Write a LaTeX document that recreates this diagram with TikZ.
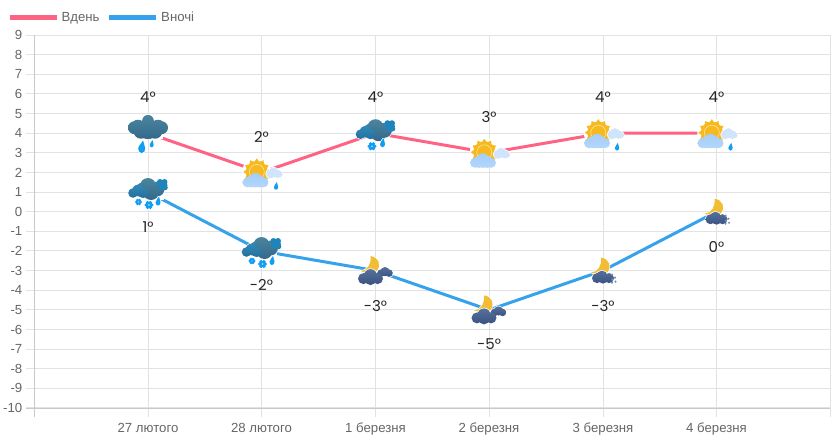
\documentclass[tikz,border=0pt]{standalone}
\usepackage{fontspec}
\setmainfont{Liberation Sans}
\newfontfamily\valfont{Poppins}
\definecolor{daycol}{HTML}{FF6384}
\definecolor{nightcol}{HTML}{36A2EB}
\definecolor{gridcol}{HTML}{E2E2E2}
\definecolor{axiscol}{HTML}{C9C9C9}
\definecolor{tickcol}{HTML}{666666}
\definecolor{dropcol}{HTML}{0F9EF2}
\definecolor{suncol}{HTML}{F6B91E}
\definecolor{mooncol}{HTML}{F2BD35}
\definecolor{stormtop}{HTML}{4A86A0}
\definecolor{stormlow}{HTML}{34688A}
\definecolor{fronttop}{HTML}{2F8AB8}
\definecolor{frontlow}{HTML}{256F9C}
\definecolor{bumpcol}{HTML}{1F84BC}
\definecolor{palecol}{HTML}{D0E5FC}
\definecolor{paletop}{HTML}{A4CEF8}
\definecolor{palelow}{HTML}{B4D6FB}
\definecolor{nighttop}{HTML}{56709A}
\definecolor{nightlow}{HTML}{3A5282}
\definecolor{speckcol}{HTML}{7D90B4}

\newcommand{\bigcloud}{(-13.5,-5.5) circle [radius=6.5] (13.5,-5.5) circle [radius=6.5] (-10,-6) circle [radius=7.5] (10,-6) circle [radius=7.5] (0,-12.5) circle [radius=5.8] (0,-4) circle [radius=10] (-7,-2) circle [radius=7.5] (7,-2) circle [radius=7.5]}
\newcommand{\maincloud}{(0,-6) circle [radius=8] (-5,-2) circle [radius=7.5] (9,-3) circle [radius=7.5] (3,0) circle [radius=8]}
\newcommand{\leftcloud}{(-15,1) circle [radius=4.8] (-10,-1.5) circle [radius=5.8] (-5,1) circle [radius=5]}
\newcommand{\rightbump}{(14.5,-7) circle [radius=5] (12,-10) circle [radius=3] (16.5,-10) circle [radius=3] (17,-4.5) circle [radius=2.8]}
\newcommand{\sunfront}{(-14,10) circle [radius=5] (2,10) circle [radius=5] (-6,6.5) circle [radius=6] (-6,9) circle [radius=6] (-10,9) circle [radius=6] (-2,9) circle [radius=6]}
\newcommand{\sunback}{(12,0) circle [radius=5] (9,1.5) circle [radius=4.5] (16,1.5) circle [radius=4.2] (18,2) circle [radius=3]}
\newcommand{\moonfront}{(-12,8) circle [radius=5.5] (2,8) circle [radius=5.5] (-5,5) circle [radius=6.5] (-5,9) circle [radius=5.5]}
\newcommand{\moonback}{(5.5,2.5) circle [radius=3.8] (13.5,2.5) circle [radius=3.8] (9.5,1) circle [radius=4.6]}
\newcommand{\moonsnow}{(-6,7.5) circle [radius=5] (6,7.5) circle [radius=5] (-1,5.5) circle [radius=5.5] (0,8) circle [radius=5]}
\newcommand{\moonshape}{(-2,-13) .. controls (6,-12) and (9.5,-4) .. (4,2) .. controls (0,4) and (-7,4) .. (-12,2) .. controls (-5,1.5) and (-1,-5) .. (-2,-13) -- cycle}
\newcommand{\dropshape}{(1,-4.5) .. controls (0,-2) and (-2.5,-1) .. (-2.5,1.5) .. controls (-2.5,3.5) and (-1,4.5) .. (0,4.5) .. controls (1.8,4.5) and (2.5,3) .. (2.5,1) .. controls (2.5,-1) and (1,-2.5) .. (1,-4.5)}
\newcommand{\tinydrop}[3]{\path[fill=white,draw=white,line width=1.5] [shift={(#1,#2)},scale=#3] \dropshape;
  \fill[dropcol] [shift={(#1,#2)},scale=#3] \dropshape;}
\newcommand{\tinyflake}[3]{\begin{scope}[shift={(#1,#2)},scale=#3]
  \fill[white] (0,0) circle [radius=4.6];
  \foreach \a in {0,60,...,300} \fill[dropcol] (\a:2.3) circle [radius=1.7];
  \fill[dropcol] (0,0) circle [radius=1.8];
  \fill[white!70!dropcol] (0,0) circle [radius=0.7];
  \end{scope}}

\tikzset{
  gridline/.style={gridcol, line width=1pt},
  axisline/.style={axiscol, line width=1pt},
  dayline/.style={daycol, line width=3pt},
  nightline/.style={nightcol, line width=3pt},
  ticklabel/.style={text=tickcol, font=\fontsize{13.2}{15}\selectfont, inner sep=0pt},
  vallabel/.style={text=black!85, font=\valfont\fontsize{15}{17}\selectfont, inner sep=0pt},
  halo/.style={fill=white, draw=white, line width=1.4pt},
  pics/raincloud/.style={code={
    \path[halo] \bigcloud;
    \path[top color=stormtop, bottom color=stormlow] \bigcloud;
  }},
  pics/snowcloud/.style={code={
    \path[halo] \maincloud \leftcloud \rightbump;
    \path[top color=stormtop, bottom color=stormlow] \maincloud;
    \path[top color=fronttop, bottom color=frontlow] \leftcloud;
    \path[fill=bumpcol] \rightbump;
  }},
  pics/suncloud/.style={code={
    \begin{scope}[shift={(-4.7,-0.5)}]
      \fill[white] (0,0) circle [radius=14.5];
      \foreach \a in {0,30,...,330} \fill[suncol] (\a-13:10.5) -- (\a:13.5) -- (\a+13:10.5) -- cycle;
      \fill[suncol] (0,0) circle [radius=11];
      \draw[white!60!suncol, line width=0.6pt] (0,0) circle [radius=7.5];
    \end{scope}
    \path[halo] \sunback;
    \path[fill=palecol] \sunback;
    \path[top color=paletop, bottom color=palelow] \sunfront;
  }},
  pics/moontwo/.style={code={
    \begin{scope}[shift={(-3,-1.5)}]
      \path[halo] \moonshape;
      \fill[mooncol] \moonshape;
    \end{scope}
    \path[halo] \moonback \moonfront;
    \path[top color=nighttop, bottom color=nightlow] \moonback;
    \path[top color=nighttop, bottom color=nightlow] \moonfront;
  }},
  pics/moonflakes/.style={code={
    \path[halo] \moonshape;
    \fill[mooncol] \moonshape;
    \path[halo] \moonsnow;
    \path[top color=nighttop, bottom color=nightlow] \moonsnow;
    \foreach \p in {(9,4),(12,7),(9.5,9),(12.5,11),(9,12)} \fill[speckcol] \p circle [radius=1.2];
  }},
}

\begin{document}
\begin{tikzpicture}[x=1pt, y=-1pt]
  \useasboundingbox (0,0) rectangle (836,440);

  % grid
  \foreach \v [count=\i from 0] in {9,8,...,-10} {
    \draw[gridline] (25.5,{35+\i*19.63}) -- (830,{35+\i*19.63});
    \node[ticklabel, anchor=east] (tick\i) at (22.5,{35+\i*19.63}) {\v};
  }
  \foreach \x in {148,261.5,375.5,489,603,716.5,830}
    \draw[gridline] (\x,35) -- (\x,417);
  \draw[axisline] (34.5,35) -- (34.5,417);
  \draw[axisline] (25.5,408) -- (830,408);

  % dates
  \node[ticklabel, anchor=base] (date1) at (148,432.5) {27 лютого};
  \node[ticklabel, anchor=base] (date2) at (261.5,432.5) {28 лютого};
  \node[ticklabel, anchor=base] (date3) at (375.5,432.5) {1 березня};
  \node[ticklabel, anchor=base] (date4) at (489,432.5) {2 березня};
  \node[ticklabel, anchor=base] (date5) at (603,432.5) {3 березня};
  \node[ticklabel, anchor=base] (date6) at (716.5,432.5) {4 березня};

  % legend
  \coordinate (dayA) at (9.5,17);
  \coordinate (dayB) at (56.5,17);
  \coordinate (nightA) at (109,17);
  \coordinate (nightB) at (156,17);
  \draw[daycol, line width=5pt] (dayA) -- (dayB);
  \draw[nightcol, line width=5pt] (nightA) -- (nightB);
  \node[ticklabel, anchor=base west] (dayname) at (61.5,21.5) {Вдень};
  \node[ticklabel, anchor=base west] (nightname) at (161,21.5) {Вночі};

  % day points
  \coordinate (d1) at (148,133.2);
  \coordinate (d2) at (261.5,172.4);
  \coordinate (d3) at (375.5,133.2);
  \coordinate (d4) at (489,152.8);
  \coordinate (d5) at (603,133.2);
  \coordinate (d6) at (716.5,133.2);
  % night points
  \coordinate (n1) at (148,192);
  \coordinate (n2) at (261.5,251);
  \coordinate (n3) at (375.5,270.6);
  \coordinate (n4) at (489,309.9);
  \coordinate (n5) at (603,270.6);
  \coordinate (n6) at (716.5,211.7);

  \draw[dayline] (d1) -- (d2) -- (d3) -- (d4) -- (d5) -- (d6);
  \draw[nightline] (n1) -- (n2) -- (n3) -- (n4) -- (n5) -- (n6);

  % icons
  \begin{scope}[shift={(d1)}]
    \path[halo] (-13,0) rectangle (14,5);
    \pic {raincloud};
    \tinydrop{-6.3}{13.5}{1.4}
    \tinydrop{3.7}{10.5}{0.8}
  \end{scope}
  \begin{scope}[shift={(d2)}]
    \pic {suncloud};
    \tinydrop{14.5}{13.5}{0.85}
  \end{scope}
  \begin{scope}[shift={(d3)}]
    \pic {snowcloud};
    \tinyflake{-3.5}{13}{1.15}
    \tinydrop{7}{9.5}{1}
  \end{scope}
  \begin{scope}[shift={(d4)}]
    \pic {suncloud};
  \end{scope}
  \begin{scope}[shift={(d5)}]
    \pic {suncloud};
    \tinydrop{14}{13.5}{0.85}
  \end{scope}
  \begin{scope}[shift={(d6)}]
    \pic {suncloud};
    \tinydrop{14}{13.5}{0.85}
  \end{scope}
  \begin{scope}[shift={(n1)}]
    \path[halo] (8,1) rectangle (15,7);
    \pic {snowcloud};
    \tinyflake{-9.5}{10}{0.9}
    \tinyflake{1}{13}{1.15}
    \tinydrop{10}{9}{1}
  \end{scope}
  \begin{scope}[shift={(n2)}]
    \path[halo] (8,1) rectangle (15,6);
    \pic {snowcloud};
    \tinyflake{-9.5}{10}{0.9}
    \tinyflake{1}{13}{1.15}
    \tinydrop{10.5}{9.5}{1}
  \end{scope}
  \begin{scope}[shift={(n3)}]
    \pic {moontwo};
  \end{scope}
  \begin{scope}[shift={(n4)}]
    \pic {moontwo};
  \end{scope}
  \begin{scope}[shift={(n5)}]
    \pic {moonflakes};
  \end{scope}
  \begin{scope}[shift={(n6)}]
    \pic {moonflakes};
  \end{scope}

  % values
  \node[vallabel] (v1) at (148,97) {4°};
  \node[vallabel] (v2) at (261.5,137) {2°};
  \node[vallabel] (v3) at (375.5,97) {4°};
  \node[vallabel] (v4) at (489,117) {3°};
  \node[vallabel] (v5) at (603,97) {4°};
  \node[vallabel] (v6) at (716.5,97) {4°};
  \node[vallabel] (w1) at (148,227) {1°};
  \node[vallabel] (w2) at (261.5,285) {-2°};
  \node[vallabel] (w3) at (375.5,306) {-3°};
  \node[vallabel] (w4) at (489,344) {-5°};
  \node[vallabel] (w5) at (603,306) {-3°};
  \node[vallabel] (w6) at (716.5,247) {0°};
\end{tikzpicture}
\end{document}
